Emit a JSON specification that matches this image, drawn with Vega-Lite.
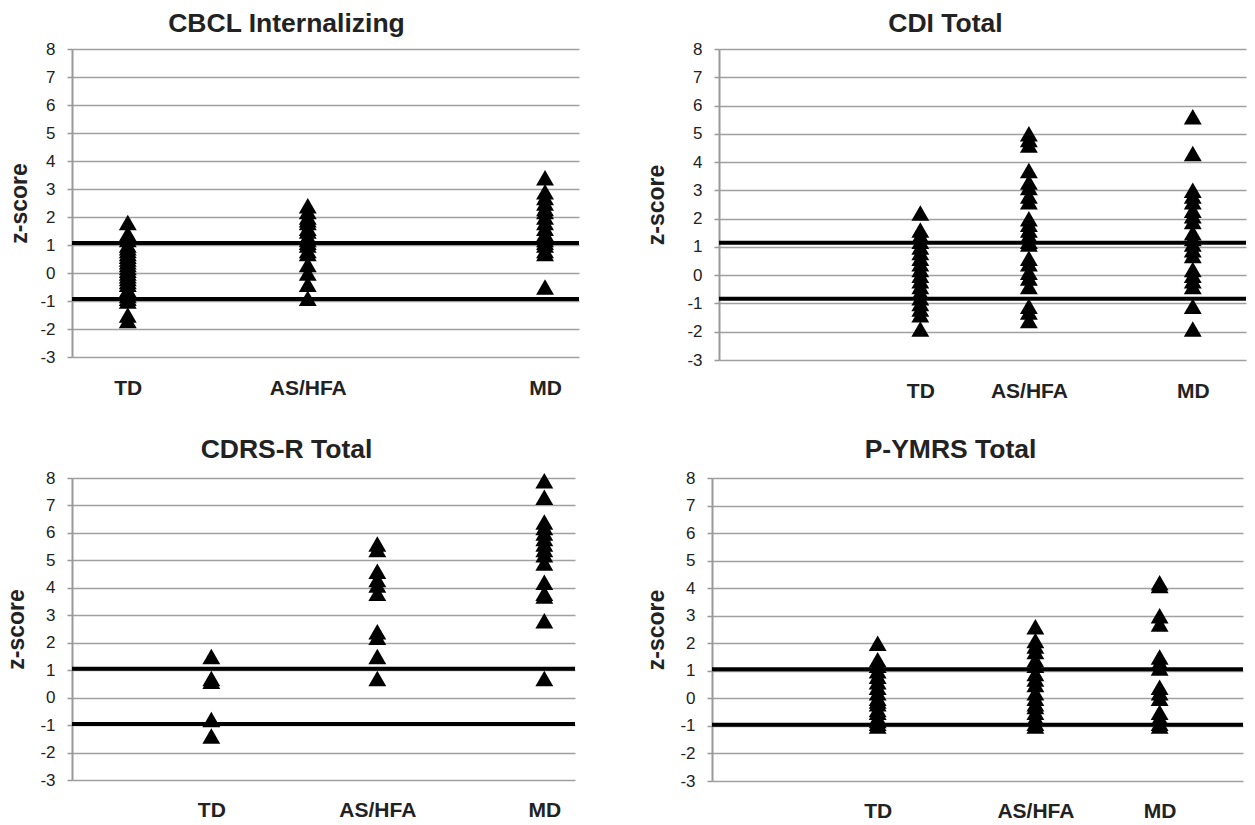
{
  "$schema": "https://vega.github.io/schema/vega-lite/v6.json",
  "background": "white",
  "padding": {"top": 10, "left": 5, "right": 5, "bottom": 0},
  "config": {
    "view": {"stroke": null},
    "font": "Liberation Sans",
    "title": {"font": "Liberation Sans", "fontSize": 26.5, "fontWeight": "bold", "color": "#222222", "anchor": "middle", "frame": "group", "offset": 3},
    "axisY": {"labelFont": "Liberation Sans", "labelFontSize": 17, "labelColor": "#222222", "labelPadding": 12, "labelOverlap": false, "labelBound": false, "labelFlush": false, "labelExpr": "'' + datum.value", "tickSize": 5, "tickColor": "#999999", "tickWidth": 1.5, "domainColor": "#999999", "domainWidth": 2, "grid": true, "gridColor": "#a0a0a0", "gridWidth": 1.5, "titleFont": "Liberation Sans", "titleFontSize": 23, "titleFontWeight": "bold", "titleColor": "#222222"},
    "axisX": {"labelFont": "Liberation Sans", "labelFontSize": 21, "labelFontWeight": "bold", "labelColor": "#222222", "labelOverlap": false, "labelFlush": false, "domain": false, "ticks": false, "grid": false}
  },
  "datasets": {
    "points": [
      {"panel": "CBCL Internalizing", "group": "TD", "x": 1.1, "z": 1.8},
      {"panel": "CBCL Internalizing", "group": "TD", "x": 1.1, "z": 1.4},
      {"panel": "CBCL Internalizing", "group": "TD", "x": 1.1, "z": 1.2},
      {"panel": "CBCL Internalizing", "group": "TD", "x": 1.1, "z": 1.0},
      {"panel": "CBCL Internalizing", "group": "TD", "x": 1.1, "z": 0.9},
      {"panel": "CBCL Internalizing", "group": "TD", "x": 1.1, "z": 0.8},
      {"panel": "CBCL Internalizing", "group": "TD", "x": 1.1, "z": 0.7},
      {"panel": "CBCL Internalizing", "group": "TD", "x": 1.1, "z": 0.6},
      {"panel": "CBCL Internalizing", "group": "TD", "x": 1.1, "z": 0.5},
      {"panel": "CBCL Internalizing", "group": "TD", "x": 1.1, "z": 0.4},
      {"panel": "CBCL Internalizing", "group": "TD", "x": 1.1, "z": 0.3},
      {"panel": "CBCL Internalizing", "group": "TD", "x": 1.1, "z": 0.2},
      {"panel": "CBCL Internalizing", "group": "TD", "x": 1.1, "z": 0.1},
      {"panel": "CBCL Internalizing", "group": "TD", "x": 1.1, "z": 0.0},
      {"panel": "CBCL Internalizing", "group": "TD", "x": 1.1, "z": -0.1},
      {"panel": "CBCL Internalizing", "group": "TD", "x": 1.1, "z": -0.2},
      {"panel": "CBCL Internalizing", "group": "TD", "x": 1.1, "z": -0.3},
      {"panel": "CBCL Internalizing", "group": "TD", "x": 1.1, "z": -0.4},
      {"panel": "CBCL Internalizing", "group": "TD", "x": 1.1, "z": -0.6},
      {"panel": "CBCL Internalizing", "group": "TD", "x": 1.1, "z": -0.8},
      {"panel": "CBCL Internalizing", "group": "TD", "x": 1.1, "z": -0.9},
      {"panel": "CBCL Internalizing", "group": "TD", "x": 1.1, "z": -1.0},
      {"panel": "CBCL Internalizing", "group": "TD", "x": 1.1, "z": -1.5},
      {"panel": "CBCL Internalizing", "group": "TD", "x": 1.1, "z": -1.7},
      {"panel": "CBCL Internalizing", "group": "AS/HFA", "x": 4.65, "z": 2.4},
      {"panel": "CBCL Internalizing", "group": "AS/HFA", "x": 4.65, "z": 2.2},
      {"panel": "CBCL Internalizing", "group": "AS/HFA", "x": 4.65, "z": 2.0},
      {"panel": "CBCL Internalizing", "group": "AS/HFA", "x": 4.65, "z": 1.9},
      {"panel": "CBCL Internalizing", "group": "AS/HFA", "x": 4.65, "z": 1.8},
      {"panel": "CBCL Internalizing", "group": "AS/HFA", "x": 4.65, "z": 1.6},
      {"panel": "CBCL Internalizing", "group": "AS/HFA", "x": 4.65, "z": 1.5},
      {"panel": "CBCL Internalizing", "group": "AS/HFA", "x": 4.65, "z": 1.3},
      {"panel": "CBCL Internalizing", "group": "AS/HFA", "x": 4.65, "z": 1.2},
      {"panel": "CBCL Internalizing", "group": "AS/HFA", "x": 4.65, "z": 1.1},
      {"panel": "CBCL Internalizing", "group": "AS/HFA", "x": 4.65, "z": 1.0},
      {"panel": "CBCL Internalizing", "group": "AS/HFA", "x": 4.65, "z": 0.8},
      {"panel": "CBCL Internalizing", "group": "AS/HFA", "x": 4.65, "z": 0.7},
      {"panel": "CBCL Internalizing", "group": "AS/HFA", "x": 4.65, "z": 0.3},
      {"panel": "CBCL Internalizing", "group": "AS/HFA", "x": 4.65, "z": 0.0},
      {"panel": "CBCL Internalizing", "group": "AS/HFA", "x": 4.65, "z": -0.4},
      {"panel": "CBCL Internalizing", "group": "AS/HFA", "x": 4.65, "z": -0.9},
      {"panel": "CBCL Internalizing", "group": "MD", "x": 9.33, "z": 3.4},
      {"panel": "CBCL Internalizing", "group": "MD", "x": 9.33, "z": 2.9},
      {"panel": "CBCL Internalizing", "group": "MD", "x": 9.33, "z": 2.7},
      {"panel": "CBCL Internalizing", "group": "MD", "x": 9.33, "z": 2.5},
      {"panel": "CBCL Internalizing", "group": "MD", "x": 9.33, "z": 2.3},
      {"panel": "CBCL Internalizing", "group": "MD", "x": 9.33, "z": 2.2},
      {"panel": "CBCL Internalizing", "group": "MD", "x": 9.33, "z": 2.0},
      {"panel": "CBCL Internalizing", "group": "MD", "x": 9.33, "z": 1.8},
      {"panel": "CBCL Internalizing", "group": "MD", "x": 9.33, "z": 1.6},
      {"panel": "CBCL Internalizing", "group": "MD", "x": 9.33, "z": 1.4},
      {"panel": "CBCL Internalizing", "group": "MD", "x": 9.33, "z": 1.2},
      {"panel": "CBCL Internalizing", "group": "MD", "x": 9.33, "z": 1.1},
      {"panel": "CBCL Internalizing", "group": "MD", "x": 9.33, "z": 1.0},
      {"panel": "CBCL Internalizing", "group": "MD", "x": 9.33, "z": 0.8},
      {"panel": "CBCL Internalizing", "group": "MD", "x": 9.33, "z": 0.7},
      {"panel": "CBCL Internalizing", "group": "MD", "x": 9.33, "z": -0.5},
      {"panel": "CDI Total", "group": "TD", "x": 3.82, "z": 2.2},
      {"panel": "CDI Total", "group": "TD", "x": 3.82, "z": 1.6},
      {"panel": "CDI Total", "group": "TD", "x": 3.82, "z": 1.4},
      {"panel": "CDI Total", "group": "TD", "x": 3.82, "z": 1.2},
      {"panel": "CDI Total", "group": "TD", "x": 3.82, "z": 1.0},
      {"panel": "CDI Total", "group": "TD", "x": 3.82, "z": 0.8},
      {"panel": "CDI Total", "group": "TD", "x": 3.82, "z": 0.6},
      {"panel": "CDI Total", "group": "TD", "x": 3.82, "z": 0.4},
      {"panel": "CDI Total", "group": "TD", "x": 3.82, "z": 0.2},
      {"panel": "CDI Total", "group": "TD", "x": 3.82, "z": 0.0},
      {"panel": "CDI Total", "group": "TD", "x": 3.82, "z": -0.2},
      {"panel": "CDI Total", "group": "TD", "x": 3.82, "z": -0.4},
      {"panel": "CDI Total", "group": "TD", "x": 3.82, "z": -0.6},
      {"panel": "CDI Total", "group": "TD", "x": 3.82, "z": -0.8},
      {"panel": "CDI Total", "group": "TD", "x": 3.82, "z": -1.0},
      {"panel": "CDI Total", "group": "TD", "x": 3.82, "z": -1.2},
      {"panel": "CDI Total", "group": "TD", "x": 3.82, "z": -1.4},
      {"panel": "CDI Total", "group": "TD", "x": 3.82, "z": -1.9},
      {"panel": "CDI Total", "group": "AS/HFA", "x": 5.88, "z": 5.0},
      {"panel": "CDI Total", "group": "AS/HFA", "x": 5.88, "z": 4.8},
      {"panel": "CDI Total", "group": "AS/HFA", "x": 5.88, "z": 4.6},
      {"panel": "CDI Total", "group": "AS/HFA", "x": 5.88, "z": 3.7},
      {"panel": "CDI Total", "group": "AS/HFA", "x": 5.88, "z": 3.3},
      {"panel": "CDI Total", "group": "AS/HFA", "x": 5.88, "z": 3.1},
      {"panel": "CDI Total", "group": "AS/HFA", "x": 5.88, "z": 2.8},
      {"panel": "CDI Total", "group": "AS/HFA", "x": 5.88, "z": 2.6},
      {"panel": "CDI Total", "group": "AS/HFA", "x": 5.88, "z": 2.0},
      {"panel": "CDI Total", "group": "AS/HFA", "x": 5.88, "z": 1.8},
      {"panel": "CDI Total", "group": "AS/HFA", "x": 5.88, "z": 1.6},
      {"panel": "CDI Total", "group": "AS/HFA", "x": 5.88, "z": 1.4},
      {"panel": "CDI Total", "group": "AS/HFA", "x": 5.88, "z": 1.2},
      {"panel": "CDI Total", "group": "AS/HFA", "x": 5.88, "z": 1.1},
      {"panel": "CDI Total", "group": "AS/HFA", "x": 5.88, "z": 0.6},
      {"panel": "CDI Total", "group": "AS/HFA", "x": 5.88, "z": 0.4},
      {"panel": "CDI Total", "group": "AS/HFA", "x": 5.88, "z": 0.1},
      {"panel": "CDI Total", "group": "AS/HFA", "x": 5.88, "z": -0.1},
      {"panel": "CDI Total", "group": "AS/HFA", "x": 5.88, "z": -0.4},
      {"panel": "CDI Total", "group": "AS/HFA", "x": 5.88, "z": -1.1},
      {"panel": "CDI Total", "group": "AS/HFA", "x": 5.88, "z": -1.3},
      {"panel": "CDI Total", "group": "AS/HFA", "x": 5.88, "z": -1.6},
      {"panel": "CDI Total", "group": "MD", "x": 8.99, "z": 5.6},
      {"panel": "CDI Total", "group": "MD", "x": 8.99, "z": 4.3},
      {"panel": "CDI Total", "group": "MD", "x": 8.99, "z": 3.0},
      {"panel": "CDI Total", "group": "MD", "x": 8.99, "z": 2.8},
      {"panel": "CDI Total", "group": "MD", "x": 8.99, "z": 2.6},
      {"panel": "CDI Total", "group": "MD", "x": 8.99, "z": 2.3},
      {"panel": "CDI Total", "group": "MD", "x": 8.99, "z": 2.1},
      {"panel": "CDI Total", "group": "MD", "x": 8.99, "z": 1.9},
      {"panel": "CDI Total", "group": "MD", "x": 8.99, "z": 1.5},
      {"panel": "CDI Total", "group": "MD", "x": 8.99, "z": 1.3},
      {"panel": "CDI Total", "group": "MD", "x": 8.99, "z": 1.1},
      {"panel": "CDI Total", "group": "MD", "x": 8.99, "z": 0.9},
      {"panel": "CDI Total", "group": "MD", "x": 8.99, "z": 0.7},
      {"panel": "CDI Total", "group": "MD", "x": 8.99, "z": 0.2},
      {"panel": "CDI Total", "group": "MD", "x": 8.99, "z": 0.0},
      {"panel": "CDI Total", "group": "MD", "x": 8.99, "z": -0.2},
      {"panel": "CDI Total", "group": "MD", "x": 8.99, "z": -0.4},
      {"panel": "CDI Total", "group": "MD", "x": 8.99, "z": -1.1},
      {"panel": "CDI Total", "group": "MD", "x": 8.99, "z": -1.9},
      {"panel": "CDRS-R Total", "group": "TD", "x": 2.77, "z": 1.5},
      {"panel": "CDRS-R Total", "group": "TD", "x": 2.77, "z": 0.7},
      {"panel": "CDRS-R Total", "group": "TD", "x": 2.77, "z": 0.6},
      {"panel": "CDRS-R Total", "group": "TD", "x": 2.77, "z": -0.8},
      {"panel": "CDRS-R Total", "group": "TD", "x": 2.77, "z": -1.4},
      {"panel": "CDRS-R Total", "group": "AS/HFA", "x": 6.07, "z": 5.6},
      {"panel": "CDRS-R Total", "group": "AS/HFA", "x": 6.07, "z": 5.4},
      {"panel": "CDRS-R Total", "group": "AS/HFA", "x": 6.07, "z": 4.6},
      {"panel": "CDRS-R Total", "group": "AS/HFA", "x": 6.07, "z": 4.3},
      {"panel": "CDRS-R Total", "group": "AS/HFA", "x": 6.07, "z": 4.1},
      {"panel": "CDRS-R Total", "group": "AS/HFA", "x": 6.07, "z": 3.8},
      {"panel": "CDRS-R Total", "group": "AS/HFA", "x": 6.07, "z": 2.4},
      {"panel": "CDRS-R Total", "group": "AS/HFA", "x": 6.07, "z": 2.2},
      {"panel": "CDRS-R Total", "group": "AS/HFA", "x": 6.07, "z": 1.5},
      {"panel": "CDRS-R Total", "group": "AS/HFA", "x": 6.07, "z": 0.7},
      {"panel": "CDRS-R Total", "group": "MD", "x": 9.39, "z": 7.9},
      {"panel": "CDRS-R Total", "group": "MD", "x": 9.39, "z": 7.3},
      {"panel": "CDRS-R Total", "group": "MD", "x": 9.39, "z": 6.4},
      {"panel": "CDRS-R Total", "group": "MD", "x": 9.39, "z": 6.2},
      {"panel": "CDRS-R Total", "group": "MD", "x": 9.39, "z": 6.0},
      {"panel": "CDRS-R Total", "group": "MD", "x": 9.39, "z": 5.8},
      {"panel": "CDRS-R Total", "group": "MD", "x": 9.39, "z": 5.6},
      {"panel": "CDRS-R Total", "group": "MD", "x": 9.39, "z": 5.4},
      {"panel": "CDRS-R Total", "group": "MD", "x": 9.39, "z": 5.2},
      {"panel": "CDRS-R Total", "group": "MD", "x": 9.39, "z": 4.9},
      {"panel": "CDRS-R Total", "group": "MD", "x": 9.39, "z": 4.2},
      {"panel": "CDRS-R Total", "group": "MD", "x": 9.39, "z": 3.8},
      {"panel": "CDRS-R Total", "group": "MD", "x": 9.39, "z": 3.7},
      {"panel": "CDRS-R Total", "group": "MD", "x": 9.39, "z": 2.8},
      {"panel": "CDRS-R Total", "group": "MD", "x": 9.39, "z": 0.7},
      {"panel": "P-YMRS Total", "group": "TD", "x": 3.12, "z": 2.0},
      {"panel": "P-YMRS Total", "group": "TD", "x": 3.12, "z": 1.4},
      {"panel": "P-YMRS Total", "group": "TD", "x": 3.12, "z": 1.2},
      {"panel": "P-YMRS Total", "group": "TD", "x": 3.12, "z": 1.0},
      {"panel": "P-YMRS Total", "group": "TD", "x": 3.12, "z": 0.8},
      {"panel": "P-YMRS Total", "group": "TD", "x": 3.12, "z": 0.6},
      {"panel": "P-YMRS Total", "group": "TD", "x": 3.12, "z": 0.4},
      {"panel": "P-YMRS Total", "group": "TD", "x": 3.12, "z": 0.2},
      {"panel": "P-YMRS Total", "group": "TD", "x": 3.12, "z": 0.0},
      {"panel": "P-YMRS Total", "group": "TD", "x": 3.12, "z": -0.1},
      {"panel": "P-YMRS Total", "group": "TD", "x": 3.12, "z": -0.2},
      {"panel": "P-YMRS Total", "group": "TD", "x": 3.12, "z": -0.4},
      {"panel": "P-YMRS Total", "group": "TD", "x": 3.12, "z": -0.5},
      {"panel": "P-YMRS Total", "group": "TD", "x": 3.12, "z": -0.7},
      {"panel": "P-YMRS Total", "group": "TD", "x": 3.12, "z": -0.8},
      {"panel": "P-YMRS Total", "group": "TD", "x": 3.12, "z": -0.9},
      {"panel": "P-YMRS Total", "group": "TD", "x": 3.12, "z": -1.0},
      {"panel": "P-YMRS Total", "group": "AS/HFA", "x": 6.09, "z": 2.6},
      {"panel": "P-YMRS Total", "group": "AS/HFA", "x": 6.09, "z": 2.1},
      {"panel": "P-YMRS Total", "group": "AS/HFA", "x": 6.09, "z": 1.9},
      {"panel": "P-YMRS Total", "group": "AS/HFA", "x": 6.09, "z": 1.7},
      {"panel": "P-YMRS Total", "group": "AS/HFA", "x": 6.09, "z": 1.4},
      {"panel": "P-YMRS Total", "group": "AS/HFA", "x": 6.09, "z": 1.2},
      {"panel": "P-YMRS Total", "group": "AS/HFA", "x": 6.09, "z": 0.9},
      {"panel": "P-YMRS Total", "group": "AS/HFA", "x": 6.09, "z": 0.7},
      {"panel": "P-YMRS Total", "group": "AS/HFA", "x": 6.09, "z": 0.5},
      {"panel": "P-YMRS Total", "group": "AS/HFA", "x": 6.09, "z": 0.2},
      {"panel": "P-YMRS Total", "group": "AS/HFA", "x": 6.09, "z": 0.0},
      {"panel": "P-YMRS Total", "group": "AS/HFA", "x": 6.09, "z": -0.2},
      {"panel": "P-YMRS Total", "group": "AS/HFA", "x": 6.09, "z": -0.3},
      {"panel": "P-YMRS Total", "group": "AS/HFA", "x": 6.09, "z": -0.5},
      {"panel": "P-YMRS Total", "group": "AS/HFA", "x": 6.09, "z": -0.7},
      {"panel": "P-YMRS Total", "group": "AS/HFA", "x": 6.09, "z": -0.9},
      {"panel": "P-YMRS Total", "group": "AS/HFA", "x": 6.09, "z": -1.0},
      {"panel": "P-YMRS Total", "group": "MD", "x": 8.43, "z": 4.2},
      {"panel": "P-YMRS Total", "group": "MD", "x": 8.43, "z": 4.1},
      {"panel": "P-YMRS Total", "group": "MD", "x": 8.43, "z": 3.0},
      {"panel": "P-YMRS Total", "group": "MD", "x": 8.43, "z": 2.7},
      {"panel": "P-YMRS Total", "group": "MD", "x": 8.43, "z": 1.5},
      {"panel": "P-YMRS Total", "group": "MD", "x": 8.43, "z": 1.3},
      {"panel": "P-YMRS Total", "group": "MD", "x": 8.43, "z": 1.1},
      {"panel": "P-YMRS Total", "group": "MD", "x": 8.43, "z": 0.4},
      {"panel": "P-YMRS Total", "group": "MD", "x": 8.43, "z": 0.2},
      {"panel": "P-YMRS Total", "group": "MD", "x": 8.43, "z": 0.0},
      {"panel": "P-YMRS Total", "group": "MD", "x": 8.43, "z": -0.5},
      {"panel": "P-YMRS Total", "group": "MD", "x": 8.43, "z": -0.7},
      {"panel": "P-YMRS Total", "group": "MD", "x": 8.43, "z": -0.9},
      {"panel": "P-YMRS Total", "group": "MD", "x": 8.43, "z": -1.0}
    ],
    "cutoffs": [
      {"panel": "CBCL Internalizing", "z": 1.07},
      {"panel": "CBCL Internalizing", "z": -0.93},
      {"panel": "CDI Total", "z": 1.15},
      {"panel": "CDI Total", "z": -0.83},
      {"panel": "CDRS-R Total", "z": 1.05},
      {"panel": "CDRS-R Total", "z": -0.96},
      {"panel": "P-YMRS Total", "z": 1.06},
      {"panel": "P-YMRS Total", "z": -0.96}
    ]
  },
  "spacing": 35,
  "vconcat": [
    {
      "spacing": 64,
      "hconcat": [
        {
          "width": 507, "height": 308,
          "title": {"text": "CBCL Internalizing", "dx": -39},
          "encoding": {
            "y": {"field": "z", "type": "quantitative", "scale": {"domain": [-3, 8], "nice": false, "zero": false},
                  "axis": {"title": "z-score", "values": [-3, -2, -1, 0, 1, 2, 3, 4, 5, 6, 7, 8], "titlePadding": 8}}
          },
          "layer": [
            {
              "data": {"name": "points"},
              "transform": [{"filter": "datum.panel == 'CBCL Internalizing'"}],
              "mark": {"type": "point", "shape": "triangle-up", "filled": true, "color": "black", "opacity": 1, "size": 320},
              "encoding": {
                "x": {"field": "x", "type": "quantitative", "scale": {"domain": [0, 10], "nice": false, "zero": false}, "title": null,
                      "axis": {"values": [1.1, 4.65, 9.33], "labelExpr": "datum.value < 3 ? 'TD' : datum.value < 7 ? 'AS/HFA' : 'MD'", "labelPadding": 20}}
              }
            },
            {
              "data": {"name": "cutoffs"},
              "transform": [{"filter": "datum.panel == 'CBCL Internalizing'"}],
              "mark": {"type": "rule", "color": "black", "strokeWidth": 4},
              "encoding": {}
            }
          ]
        },
        {
          "width": 527, "height": 311,
          "title": {"text": "CDI Total", "dx": -37},
          "encoding": {
            "y": {"field": "z", "type": "quantitative", "scale": {"domain": [-3, 8], "nice": false, "zero": false},
                  "axis": {"title": "z-score", "values": [-3, -2, -1, 0, 1, 2, 3, 4, 5, 6, 7, 8], "titlePadding": 18}}
          },
          "layer": [
            {
              "data": {"name": "points"},
              "transform": [{"filter": "datum.panel == 'CDI Total'"}],
              "mark": {"type": "point", "shape": "triangle-up", "filled": true, "color": "black", "opacity": 1, "size": 320},
              "encoding": {
                "x": {"field": "x", "type": "quantitative", "scale": {"domain": [0, 10], "nice": false, "zero": false}, "title": null,
                      "axis": {"values": [3.82, 5.88, 8.99], "labelExpr": "datum.value < 5 ? 'TD' : datum.value < 7 ? 'AS/HFA' : 'MD'", "labelPadding": 20}}
              }
            },
            {
              "data": {"name": "cutoffs"},
              "transform": [{"filter": "datum.panel == 'CDI Total'"}],
              "mark": {"type": "rule", "color": "black", "strokeWidth": 4},
              "encoding": {}
            }
          ]
        }
      ]
    },
    {
      "spacing": 68,
      "hconcat": [
        {
          "width": 503, "height": 302,
          "title": {"text": "CDRS-R Total", "dx": -37, "offset": 6},
          "encoding": {
            "y": {"field": "z", "type": "quantitative", "scale": {"domain": [-3, 8], "nice": false, "zero": false},
                  "axis": {"title": "z-score", "values": [-3, -2, -1, 0, 1, 2, 3, 4, 5, 6, 7, 8], "titlePadding": 11}}
          },
          "layer": [
            {
              "data": {"name": "points"},
              "transform": [{"filter": "datum.panel == 'CDRS-R Total'"}],
              "mark": {"type": "point", "shape": "triangle-up", "filled": true, "color": "black", "opacity": 1, "size": 320},
              "encoding": {
                "x": {"field": "x", "type": "quantitative", "scale": {"domain": [0, 10], "nice": false, "zero": false}, "title": null,
                      "axis": {"values": [2.77, 6.07, 9.39], "labelExpr": "datum.value < 4 ? 'TD' : datum.value < 8 ? 'AS/HFA' : 'MD'", "labelPadding": 19}}
              }
            },
            {
              "data": {"name": "cutoffs"},
              "transform": [{"filter": "datum.panel == 'CDRS-R Total'"}],
              "mark": {"type": "rule", "color": "black", "strokeWidth": 4},
              "encoding": {}
            }
          ]
        },
        {
          "width": 531, "height": 303,
          "title": {"text": "P-YMRS Total", "dx": -27, "offset": 6},
          "encoding": {
            "y": {"field": "z", "type": "quantitative", "scale": {"domain": [-3, 8], "nice": false, "zero": false},
                  "axis": {"title": "z-score", "values": [-3, -2, -1, 0, 1, 2, 3, 4, 5, 6, 7, 8], "titlePadding": 11}}
          },
          "layer": [
            {
              "data": {"name": "points"},
              "transform": [{"filter": "datum.panel == 'P-YMRS Total'"}],
              "mark": {"type": "point", "shape": "triangle-up", "filled": true, "color": "black", "opacity": 1, "size": 320},
              "encoding": {
                "x": {"field": "x", "type": "quantitative", "scale": {"domain": [0, 10], "nice": false, "zero": false}, "title": null,
                      "axis": {"values": [3.12, 6.09, 8.43], "labelExpr": "datum.value < 4.5 ? 'TD' : datum.value < 7 ? 'AS/HFA' : 'MD'", "labelPadding": 19}}
              }
            },
            {
              "data": {"name": "cutoffs"},
              "transform": [{"filter": "datum.panel == 'P-YMRS Total'"}],
              "mark": {"type": "rule", "color": "black", "strokeWidth": 4},
              "encoding": {}
            }
          ]
        }
      ]
    }
  ]
}
